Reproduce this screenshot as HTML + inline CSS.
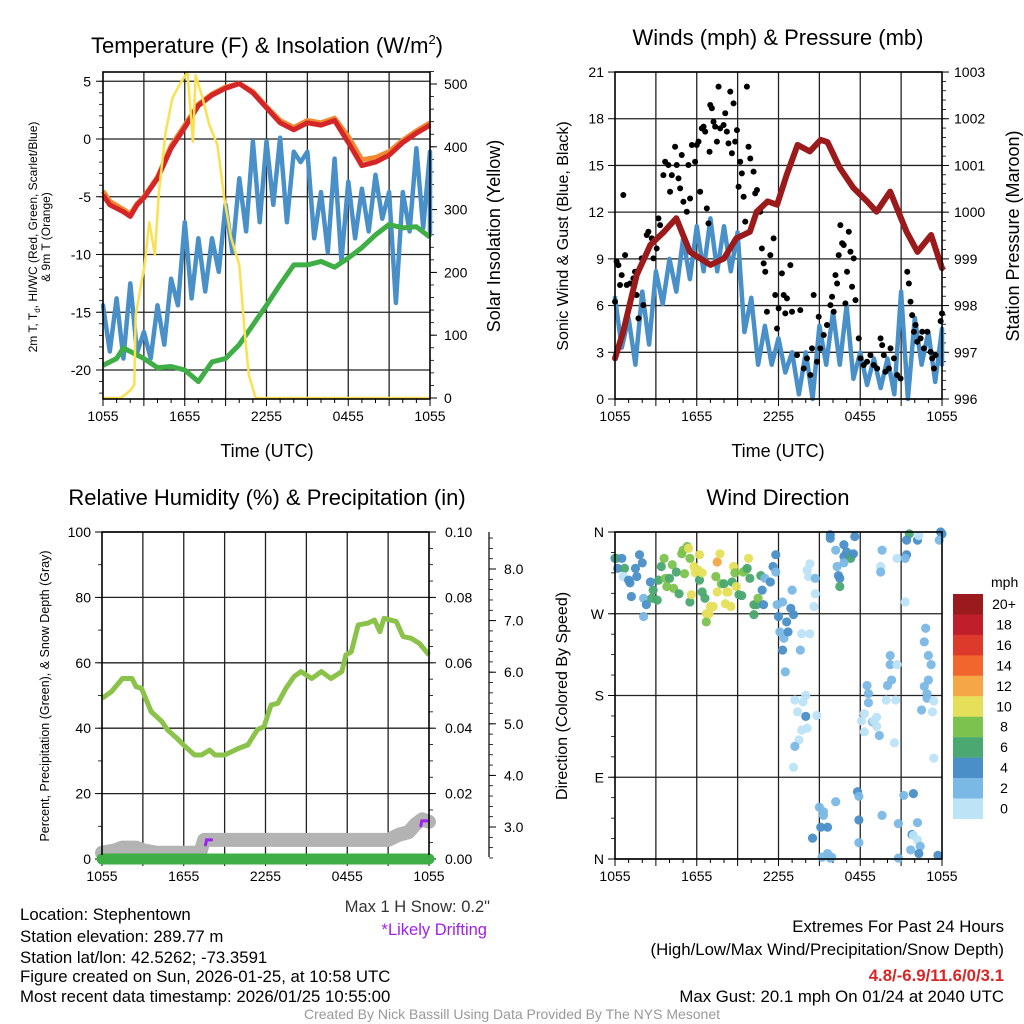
<!DOCTYPE html>
<html><head><meta charset="utf-8">
<style>
html,body{margin:0;padding:0;background:#fff;}
svg{display:block;font-family:"Liberation Sans",Arial,sans-serif;}
</style></head>
<body>
<svg id="root" width="1024" height="1024" viewBox="0 0 1024 1024" xmlns="http://www.w3.org/2000/svg">
<rect width="1024" height="1024" fill="#fff"/>
<g id="static" font-size="15" fill="#000">
 <text x="267" y="53" font-size="22" text-anchor="middle">Temperature (F) &amp; Insolation (W/m<tspan font-size="13" dy="-9">2</tspan><tspan dy="9">)</tspan></text>
 <text x="778" y="45" font-size="22" text-anchor="middle">Winds (mph) &amp; Pressure (mb)</text>
 <text x="267" y="505" font-size="22" text-anchor="middle">Relative Humidity (%) &amp; Precipitation (in)</text>
 <text x="778" y="505" font-size="22" text-anchor="middle">Wind Direction</text>
 <text x="267" y="457" font-size="18" text-anchor="middle">Time (UTC)</text>
 <text x="778" y="457" font-size="18" text-anchor="middle">Time (UTC)</text>
 <text transform="translate(37,237) rotate(-90)" font-size="12" text-anchor="middle">2m T, T<tspan font-size="8" dy="3">d</tspan><tspan dy="-3">, HI/WC (Red, Green, Scarlet/Blue)</tspan></text>
 <text transform="translate(50,237) rotate(-90)" font-size="12" text-anchor="middle">&amp; 9m T (Orange)</text>
 <text transform="translate(500,236) rotate(-90)" font-size="18" text-anchor="middle">Solar Insolation (Yellow)</text>
 <text transform="translate(568,236) rotate(-90)" font-size="16" text-anchor="middle">Sonic Wind &amp; Gust (Blue, Black)</text>
 <text transform="translate(1019,236) rotate(-90)" font-size="18" text-anchor="middle">Station Pressure (Maroon)</text>
 <text transform="translate(49,696) rotate(-90)" font-size="12.5" text-anchor="middle">Percent, Precipitation (Green), &amp; Snow Depth (Gray)</text>
 <text transform="translate(567,696) rotate(-90)" font-size="16" text-anchor="middle">Direction (Colored By Speed)</text>
 <text x="490" y="912" font-size="16.5" text-anchor="end" fill="#333">Max 1 H Snow: 0.2"</text>
 <text x="487" y="935" font-size="16.5" text-anchor="end" fill="#a020f0">*Likely Drifting</text>
 <g font-size="16.8">
  <text x="20" y="920">Location: Stephentown</text>
  <text x="20" y="942">Station elevation: 289.77 m</text>
  <text x="20" y="963">Station lat/lon: 42.5262; -73.3591</text>
  <text x="20" y="982">Figure created on Sun, 2026-01-25, at 10:58 UTC</text>
  <text x="20" y="1002">Most recent data timestamp: 2026/01/25 10:55:00</text>
 </g>
 <g font-size="16.8" text-anchor="end">
  <text x="1004" y="932">Extremes For Past 24 Hours</text>
  <text x="1004" y="955">(High/Low/Max Wind/Precipitation/Snow Depth)</text>
  <text x="1004" y="981" fill="#d62728" font-weight="bold">4.8/-6.9/11.6/0/3.1</text>
  <text x="1004" y="1002">Max Gust: 20.1 mph On 01/24 at 2040 UTC</text>
 </g>
 <text x="512" y="1019" font-size="14" fill="#999" text-anchor="middle">Created By Nick Bassill Using Data Provided By The NYS Mesonet</text>
</g>
<g id="dyn"></g>
</svg>
<script>
// ---------- DATA ----------
const xTickLabels = ["1055","1655","2255","0455","1055"];
const tempHours = [0,0.5,1.5,2,2.5,3,4,5,6,7,8,9,10,11,12,13,14,15,16,17,18,19,20,21,22,23,24];
const redTemp = [-4.85,-5.7,-6.3,-6.7,-5.7,-5.1,-3.4,-0.8,1.0,2.9,3.8,4.4,4.8,4.0,2.7,1.4,0.8,1.4,1.2,1.6,-0.3,-2.3,-2.0,-1.4,-0.3,0.5,1.2];
const orangeTemp = [-4.5,-5.4,-6.1,-6.5,-5.6,-5.0,-3.3,-0.6,1.2,3.0,3.9,4.5,4.8,4.1,2.8,1.6,1.0,1.6,1.4,1.8,0.2,-1.8,-1.6,-1.1,-0.1,0.7,1.4];
const greenHours = [0,1,1.5,2,3,4,5,6,7,8,9,10,11,12,13,14,15,16,17,18,19,20,21,22,23,24];
const greenTemp = [-19.6,-19.0,-18.1,-18.4,-19.0,-19.8,-19.7,-20.0,-21.0,-19.3,-19.0,-17.8,-16.1,-14.4,-12.6,-10.9,-10.9,-10.6,-11.1,-10.3,-9.4,-8.3,-7.4,-7.7,-7.6,-8.5];
const blueHigh = [-14.4,-13.8,-12.5,-16.7,-14.4,-12.1,-7.2,-8.6,-8.6,-5.7,-3.4,-0.2,-0.2,0.1,-1.1,-1.1,-4.6,-1.7,-3.7,-4.3,-3.1,-4.6,-4.6,-0.8,-1.1];
const blueLow = [-18.4,-19.0,-18.5,-19.0,-17.8,-14.4,-13.8,-13.2,-11.5,-9.8,-8.0,-7.2,-5.7,-7.2,-2.0,-8.6,-9.8,-10.6,-8.6,-8.0,-6.9,-14.2,-8.0,-7.7,-8.3];
const solarHours = [0,1.3,2.0,2.3,2.4,3.05,3.4,3.8,4.1,4.6,5.1,5.7,6.2,6.6,6.8,7.3,7.8,8.4,8.9,9.4,10.0,10.4,10.7,11.2,24];
const solarW = [0,0,12,21,132,212,280,228,328,424,478,502,519,408,514,478,435,403,318,255,212,105,37,0,0];
const tempTicks = [5,0,-5,-10,-15,-20];
const solarTicks = [0,100,200,300,400,500];

const pressHours = [0,0.6,1.6,2.6,3.6,4.5,5.5,7,8,8.9,9.9,10.4,11.2,11.9,12.6,13.4,14.3,15.1,15.6,16.5,17.5,18.5,19.2,20.2,20.7,21.4,22.2,23.2,24];
const pressMb = [996.87,997.44,998.66,999.3,999.58,999.87,999.15,998.87,999.01,999.44,999.58,1000.01,1000.23,1000.16,1000.8,1001.44,1001.3,1001.55,1001.5,1000.95,1000.52,1000.23,1000.01,1000.44,1000.08,999.58,999.15,999.51,998.8];
const windHigh = [6.5,5.2,6.9,8.2,9.0,10.3,11.1,11.6,11.1,10.7,6.5,4.7,3.9,3.0,3.0,4.7,5.6,6.0,3.0,2.6,2.6,6.9,5.2,4.3,4.5];
const windLow = [3.3,2.2,3.5,6.1,6.9,7.7,8.2,8.2,8.2,4.3,2.2,2.2,1.7,0.3,0.0,2.2,2.2,1.3,0.9,0.7,0.3,0.0,2.2,1.1,2.2];
const gustHours = [0,0.12,0.25,0.49,0.37,0.74,0.61,0.86,1.1,1.35,1.47,1.59,1.72,1.96,2.08,2.33,2.45,2.7,2.82,3.06,3.19,3.31,3.55,3.68,3.92,4.04,4.17,4.41,4.53,4.66,4.78,4.9,5.02,5.27,5.39,5.51,5.64,5.88,6.0,6.13,6.25,6.37,6.5,6.62,6.74,6.86,6.94,6.99,7.11,7.23,7.35,7.48,7.6,7.72,7.97,8.09,8.21,8.33,8.46,8.58,8.7,8.82,8.95,9.07,9.19,9.31,9.44,9.56,9.68,9.8,9.93,10.17,10.29,10.42,10.66,10.78,10.91,11.03,11.15,11.4,11.64,11.76,11.89,12.01,12.25,12.38,12.5,12.62,12.87,12.99,13.36,13.6,13.85,14.09,14.34,14.46,14.58,14.83,14.95,15.07,15.32,15.56,15.81,15.93,16.05,16.18,16.3,16.42,16.54,16.67,16.79,16.91,17.03,17.16,17.28,17.4,17.52,17.65,17.89,18.01,18.26,18.5,18.75,18.99,19.24,19.49,19.61,19.73,19.85,20.1,20.22,20.47,20.71,20.96,21.45,21.57,21.69,21.81,21.94,22.06,22.18,22.43,22.55,22.67,22.92,23.16,23.28,23.41,23.53,23.9,24.0];
const gustMph = [6.25,8.82,8.6,7.96,7.32,9.24,13.1,7.32,7.42,7.75,8.17,6.68,5.18,9.03,6.03,10.53,10.74,10.32,9.03,9.67,11.6,11.17,14.38,15.24,15.03,13.31,14.38,16.2,15.03,14.17,13.53,15.67,12.67,12.03,15.03,12.88,16.31,15.24,16.31,16.53,13.31,17.38,17.49,17.17,12.24,11.28,15.88,18.88,18.67,17.81,17.49,16.53,20.06,17.38,17.6,18.35,17.17,16.42,19.74,15.78,18.99,16.53,17.27,13.63,15.24,14.49,12.99,11.39,20.06,16.2,15.45,14.6,13.21,13.42,12.03,9.67,8.71,8.17,5.6,9.24,10.32,6.68,4.53,5.82,8.07,6.68,5.5,6.46,8.6,5.6,2.82,5.71,1.96,2.61,1.54,3.25,6.68,2.39,5.28,3.25,4.11,4.75,6.03,6.57,5.6,7.96,7.42,9.24,11.17,10.0,9.89,6.14,8.17,10.74,9.46,7.21,9.03,6.35,3.89,2.61,2.18,2.39,2.82,2.18,1.96,3.89,3.46,2.82,1.75,1.96,3.25,2.61,1.54,1.32,8.17,7.42,6.25,5.39,4.32,4.75,3.68,3.89,4.32,3.25,4.32,3.03,2.61,1.96,2.82,5.0,5.5];
const windTicks = [0,3,6,9,12,15,18,21];
const pressTicks = [996,997,998,999,1000,1001,1002,1003];

const rhHours = [0,0.7,1.5,2.2,2.5,2.9,3.6,4.4,4.8,5.5,6.1,6.8,7.3,7.9,8.3,9.0,10.0,10.7,11.4,11.9,12.4,12.9,13.5,14.1,14.6,15.4,16.1,16.8,17.6,17.9,18.3,18.8,19.5,20.0,20.4,20.7,21.6,22.1,22.7,23.3,24];
const rhPct = [49.1,51.2,55.2,55.2,52.7,52.2,45.1,42.0,39.5,36.9,34.4,31.8,31.8,33.3,31.8,31.8,33.8,34.9,39.5,40.5,47.1,47.6,52.2,55.8,57.3,55.2,57.3,55.2,57.3,62.4,63.4,71.6,72.1,73.1,69.5,73.6,72.6,68.0,67.5,65.9,62.4];
const snowHours = [0,1,1.5,2.5,3,4,7.2,7.5,12,21,21.8,22.5,23,23.5,24];
const snowIn = [2.5,2.55,2.6,2.6,2.55,2.5,2.5,2.75,2.75,2.75,2.85,2.9,3.05,3.15,3.1];
const precipHours = [0,24];
const precipIn = [0,0];
const driftHours = [7.6,23.4];
const driftIn = [2.75,3.12];
const rhTicks = [0,20,40,60,80,100];
const precipTicks = [0,0.02,0.04,0.06,0.08,0.10];
const snowTicks = [3,4,5,6,7,8];

const dirHours = [0,0.1,0.5,0.2,0.7,0.6,1.0,1.1,1.5,1.6,1.8,2.0,1.2,2.1,2.1,2.3,2.6,2.7,2.8,3.1,3.2,3.4,3.6,3.7,3.8,4.0,4.2,4.3,4.5,4.7,4.9,5.0,5.1,5.3,5.4,5.5,5.5,5.6,5.8,5.9,6.1,6.2,6.2,6.4,6.4,6.6,6.7,6.7,6.9,7.0,7.2,7.4,7.5,7.5,7.7,7.8,8.0,8.1,8.2,8.3,8.5,8.6,8.7,8.8,8.9,9.1,9.3,9.4,9.6,9.7,9.8,9.9,10.2,10.2,10.4,10.5,10.7,10.8,10.9,11.0,11.4,11.6,11.8,11.8,11.9,12.0,12.1,12.3,12.4,12.3,12.5,12.6,12.7,12.9,13.0,13.1,13.6,13.7,13.2,13.4,13.8,14.0,14.0,14.1,13.7,14.8,13.5,13.2,13.1,14.1,14.3,14.2,14.7,14.7,14.6,14.3,15.8,15.8,17.6,16.2,16.8,17.0,16.8,17.3,17.4,17.5,16.3,16.8,16.4,16.5,16.5,19.6,19.5,19.5,20.7,21.4,21.3,21.3,21.6,21.4,22.2,22.3,23.9,24.0,23.8,22.8,22.7,23.0,23.2,23.0,22.7,22.9,22.9,22.5,23.3,23.4,23.4,20.2,20.2,20.7,20.3,20.0,20.6,19.9,18.5,18.6,18.6,18.3,18.9,19.2,19.2,19.0,19.4,18.3,20.5,18.1,17.8,17.9,17.9,17.9,15.2,15.3,15.3,15.6,15.1,14.5,14.5,15.6,15.8,15.9,16.2,15.0,19.6,20.8,20.8,21.2,21.9,21.8,21.9,22.2,22.4,22.3,21.7,22.2,23.7,23.5,23.8];
const dirDeg = [331,331,331,320,320,311,307,304,320,311,335,326,289,287,267,280,305,287,296,285,307,322,331,309,300,309,324,298,316,292,336,340,314,344,342,331,283,291,322,315,318,335,307,294,315,287,270,261,270,278,278,311,327,294,336,303,303,281,294,294,278,305,322,315,300,291,290,316,318,320,331,309,280,269,280,287,312,296,280,309,305,322,335,316,280,267,250,283,243,230,206,261,250,276,296,269,230,248,175,162,173,180,157,144,142,158,131,124,101,318,325,311,309,292,278,248,357,353,355,340,346,338,333,331,335,336,322,326,312,309,300,340,322,316,331,335,331,283,358,351,351,356,360,358,351,254,239,224,214,197,190,182,177,164,162,174,111,224,214,214,197,191,175,175,191,182,172,160,151,156,146,152,136,140,128,152,74,69,43,18,2,52,48,35,35,23,23,6,1,2,63,57,48,39,1,70,72,27,26,21,14,6,10,40,4];
const dirSpd = [5,7,5,5,7,1,5,5,5,5,5,5,5,3,3,5,5,7,7,7,7,7,9,9,9,7,9,9,7,7,9,9,9,9,11,9,7,11,11,11,11,11,7,7,11,7,11,9,11,11,11,9,13,11,11,9,7,11,11,11,11,7,11,9,11,7,7,9,9,7,11,7,7,7,7,9,7,5,5,3,5,5,5,3,3,5,3,3,3,5,3,5,5,5,3,5,3,1,1,1,1,1,5,1,1,1,1,3,1,1,1,1,3,1,1,1,5,5,5,3,5,5,5,7,7,5,3,3,5,5,7,3,1,3,1,5,3,1,7,5,5,1,5,5,3,3,3,3,3,3,3,3,3,3,1,1,1,3,3,1,3,3,1,1,3,3,3,1,3,1,1,1,3,1,1,1,5,3,5,3,3,3,3,5,5,1,5,3,3,3,3,3,3,3,3,3,5,5,1,1,3,5,3,3,5,3,3,3,3];
const dirTickLabels = ["N","E","S","W","N"];
const dirTickDeg = [0,90,180,270,360];
const cbLabels = ["20+","18","16","14","12","10","8","6","4","2","0"];
const cbColors = ["#9a1a1e","#bf1e2a","#de3a2c","#f0662c","#f5a747","#e6df5a","#7cc24e","#4aa870","#4a8fc8","#7ab8e6","#bde3f7"];

// ---------- HELPERS ----------
const NS="http://www.w3.org/2000/svg";
const dyn=document.getElementById('dyn');
function mk(tag, attrs, parent){const e=document.createElementNS(NS,tag);for(const k in attrs)e.setAttribute(k,attrs[k]);(parent||dyn).appendChild(e);return e;}
function txt(x,y,s,size,anchor,parent){const t=mk('text',{x:x,y:y,'font-size':size,'text-anchor':anchor},parent);t.textContent=s;return t;}
function pathFrom(xs,ys,fx,fy){let d='';for(let i=0;i<xs.length;i++)d+=(i?'L':'M')+fx(xs[i]).toFixed(1)+','+fy(ys[i]).toFixed(1);return d;}

function panel(name){
  const g=mk('g',{});
  
  
  return g;
}
function timeGrid(g,x0,y0,x1,y1){
  const fx=h=>x0+h*(x1-x0)/24;
  for(let h=3;h<24;h+=3) mk('line',{x1:fx(h),y1:y0,x2:fx(h),y2:y1,stroke:'#222','stroke-width':1.3},g);
  for(let h=0;h<=24;h++) mk('line',{x1:fx(h),y1:y1,x2:fx(h),y2:y1+(h%3===0?7:4),stroke:'#000','stroke-width':1},g);
  const lg=mk('g',{},g);
  
  
  xTickLabels.forEach((s,i)=>txt(fx(i*6),y1+22,s,14,'middle',lg));
}
function frame(g,x0,y0,x1,y1){mk('rect',{x:x0,y:y0,width:x1-x0,height:y1-y0,fill:'none',stroke:'#000','stroke-width':1.6},g);}

// ---------- PANEL 1: TEMPERATURE ----------
(function(){
  const x0=103,x1=430,y0=72,y1=399;
  const g=panel('temperature-panel');
  const fx=h=>x0+h*(x1-x0)/24, fy=t=>139-t*11.55, fs=w=>398-w*0.628;
  timeGrid(g,x0,y0,x1,y1);
  tempTicks.forEach(t=>{mk('line',{x1:x0,y1:fy(t),x2:x1,y2:fy(t),stroke:'#222','stroke-width':1.3},g);mk('line',{x1:x0-7,y1:fy(t),x2:x0,y2:fy(t),stroke:'#000'},g);txt(x0-12,fy(t)+5,String(t),14,'end',g);});
  for(let t=-22;t<=5;t++) mk('line',{x1:x0-4,y1:fy(t),x2:x0,y2:fy(t),stroke:'#000','stroke-width':0.8},g);
  solarTicks.forEach(w=>{mk('line',{x1:x1,y1:fs(w),x2:x1+7,y2:fs(w),stroke:'#000'},g);txt(x1+14,fs(w)+5,String(w),14,'start',g);});
  for(let w=0;w<=520;w+=20) mk('line',{x1:x1,y1:fs(w),x2:x1+4,y2:fs(w),stroke:'#000','stroke-width':0.8},g);
  let d='';for(let i=0;i<blueHigh.length;i++){d+=(i?'L':'M')+fx(i).toFixed(1)+','+fy(blueHigh[i]).toFixed(1)+'L'+fx(Math.min(24,i+0.5)).toFixed(1)+','+fy(blueLow[i]).toFixed(1);}
  const b=mk('path',{d:d,fill:'none',stroke:'#4a90c8','stroke-width':4.5,'stroke-linejoin':'round','stroke-linecap':'round'},g);
  
  
  const gr=mk('path',{d:pathFrom(greenHours,greenTemp,fx,fy),fill:'none',stroke:'#3fae46','stroke-width':5,'stroke-linejoin':'round'},g);
  
  
  const o=mk('path',{d:pathFrom(tempHours,orangeTemp,fx,fy),fill:'none',stroke:'#f08a30','stroke-width':5,'stroke-linejoin':'round'},g);
  
  
  const r=mk('path',{d:pathFrom(tempHours,redTemp,fx,fy),fill:'none',stroke:'#d42528','stroke-width':5,'stroke-linejoin':'round'},g);
  
  
  const s=mk('path',{d:pathFrom(solarHours,solarW,fx,fs),fill:'none',stroke:'#fbe050','stroke-width':2.5,'stroke-linejoin':'round'},g);
  
  
  frame(g,x0,y0,x1,y1);
})();

// ---------- PANEL 2: WINDS ----------
(function(){
  const x0=615,x1=942,y0=72,y1=399;
  const g=panel('winds-panel');
  const fx=h=>x0+h*(x1-x0)/24, fv=v=>399-v*15.57, fp=p=>399-(p-996)*46.71;
  timeGrid(g,x0,y0,x1,y1);
  windTicks.forEach(v=>{mk('line',{x1:x0,y1:fv(v),x2:x1,y2:fv(v),stroke:'#222','stroke-width':1.3},g);mk('line',{x1:x0-7,y1:fv(v),x2:x0,y2:fv(v),stroke:'#000'},g);txt(x0-11,fv(v)+5,String(v),14,'end',g);});
  pressTicks.forEach(p=>{mk('line',{x1:x1,y1:fp(p),x2:x1+7,y2:fp(p),stroke:'#000'},g);txt(x1+12,fp(p)+5,String(p),14,'start',g);});
  for(let p=996;p<=1003;p+=0.2) mk('line',{x1:x1,y1:fp(p),x2:x1+4,y2:fp(p),stroke:'#000','stroke-width':0.8},g);
  let d='';for(let i=0;i<windHigh.length;i++){d+=(i?'L':'M')+fx(i).toFixed(1)+','+fv(windHigh[i]).toFixed(1)+'L'+fx(Math.min(24,i+0.5)).toFixed(1)+','+fv(windLow[i]).toFixed(1);}
  const w=mk('path',{d:d,fill:'none',stroke:'#4a90c8','stroke-width':4.5,'stroke-linejoin':'round','stroke-linecap':'round'},g);
  
  
  const gg=mk('g',{},g);
  
  
  gustHours.forEach((h,i)=>{if(gustMph[i]===undefined)return;const c=mk('circle',{cx:fx(h),cy:fv(gustMph[i]),r:3,fill:'#000'},gg);
    
    });
  const p=mk('path',{d:pathFrom(pressHours,pressMb,fx,fp),fill:'none',stroke:'#9b1a1c','stroke-width':6,'stroke-linejoin':'round','stroke-linecap':'round'},g);
  
  
  frame(g,x0,y0,x1,y1);
})();

// ---------- PANEL 3: RH ----------
(function(){
  const x0=102,x1=429,y0=532,y1=859;
  const g=panel('rh-panel');
  const fx=h=>x0+h*(x1-x0)/24, fr=r=>859-r*3.27, fpr=v=>859-v*3270, fsn=d=>859-(d-2.38)*51.6;
  timeGrid(g,x0,y0,x1,y1);
  rhTicks.forEach(r=>{mk('line',{x1:x0,y1:fr(r),x2:x1,y2:fr(r),stroke:'#222','stroke-width':1.3},g);mk('line',{x1:x0-7,y1:fr(r),x2:x0,y2:fr(r),stroke:'#000'},g);txt(x0-11,fr(r)+5,String(r),14,'end',g);});
  for(let r=0;r<=100;r+=10) mk('line',{x1:x0-4,y1:fr(r),x2:x0,y2:fr(r),stroke:'#000','stroke-width':0.8},g);
  precipTicks.forEach(v=>{mk('line',{x1:x1,y1:fpr(v),x2:x1+7,y2:fpr(v),stroke:'#000'},g);txt(x1+16,fpr(v)+5,v.toFixed(2),14,'start',g);});
  for(let v=0;v<=0.1001;v+=0.005) mk('line',{x1:x1,y1:fpr(v),x2:x1+4,y2:fpr(v),stroke:'#000','stroke-width':0.8},g);
  mk('line',{x1:489,y1:y0,x2:489,y2:y1-2,stroke:'#000','stroke-width':1.2},g);
  snowTicks.forEach(v=>{mk('line',{x1:489,y1:fsn(v),x2:496,y2:fsn(v),stroke:'#000'},g);txt(504,fsn(v)+5,v.toFixed(1),14,'start',g);});
  for(let v=2.4;v<=8.7;v+=0.2) mk('line',{x1:489,y1:fsn(v),x2:493,y2:fsn(v),stroke:'#000','stroke-width':0.8},g);
  const sn=mk('path',{d:pathFrom(snowHours,snowIn,fx,fsn),fill:'none',stroke:'#b3b3b3','stroke-width':14,'stroke-linejoin':'round','stroke-linecap':'round'},g);
  
  
  driftHours.forEach((h,i)=>{const m=mk('path',{d:'M'+fx(h)+','+(fsn(driftIn[i])+5)+'L'+(fx(h)+1)+','+fsn(driftIn[i])+'L'+(fx(h)+6)+','+fsn(driftIn[i]),fill:'none',stroke:'#a020f0','stroke-width':3,'stroke-linecap':'round'},g);
    
    });
  const pr=mk('path',{d:pathFrom(precipHours,precipIn,fx,fpr),fill:'none',stroke:'#3fae46','stroke-width':11,'stroke-linecap':'round'},g);
  
  
  const rh=mk('path',{d:pathFrom(rhHours,rhPct,fx,fr),fill:'none',stroke:'#8bc34a','stroke-width':5,'stroke-linejoin':'round'},g);
  
  
  frame(g,x0,y0,x1,y1);
  mk('line',{x1:x0-4,y1:y1,x2:x1+4,y2:y1,stroke:'#3fae46','stroke-width':8},g);
})();

// ---------- PANEL 4: DIRECTION ----------
(function(){
  const x0=615,x1=942,y0=532,y1=859;
  const g=panel('wind-direction-panel');
  const fx=h=>x0+h*(x1-x0)/24, fd=d=>859-d*327/360;
  timeGrid(g,x0,y0,x1,y1);
  dirTickDeg.forEach((d,i)=>{mk('line',{x1:x0,y1:fd(d),x2:x1,y2:fd(d),stroke:'#222','stroke-width':1.3},g);mk('line',{x1:x0-7,y1:fd(d),x2:x0,y2:fd(d),stroke:'#000'},g);txt(x0-11,fd(d)+5,dirTickLabels[i],14,'end',g);});
  for(let d=0;d<=360;d+=22.5) mk('line',{x1:x0-4,y1:fd(d),x2:x0,y2:fd(d),stroke:'#000','stroke-width':0.8},g);
  const pg=mk('g',{},g);
  
  
  function col(s){const idx=s>=20?0:10-Math.floor(s/2);return cbColors[Math.max(0,Math.min(10,idx))];}
  dirHours.forEach((h,i)=>{
    if(dirDeg[i]===undefined||dirSpd[i]===undefined)return;
    const c=mk('circle',{cx:fx(h),cy:fd(dirDeg[i]),r:4.6,fill:col(dirSpd[i]),opacity:0.95},pg);
    
    });
  frame(g,x0,y0,x1,y1);
  const cb=mk('g',{});
  
  
  txt(991,587,'mph',14,'start',cb);
  cbLabels.forEach((l,i)=>{const yy=594+i*20.45;mk('rect',{x:953,y:yy,width:30,height:20.6,fill:cbColors[i]},cb);txt(1004,yy+15,l,14,'middle',cb);});
})();
</script>
</body></html>
